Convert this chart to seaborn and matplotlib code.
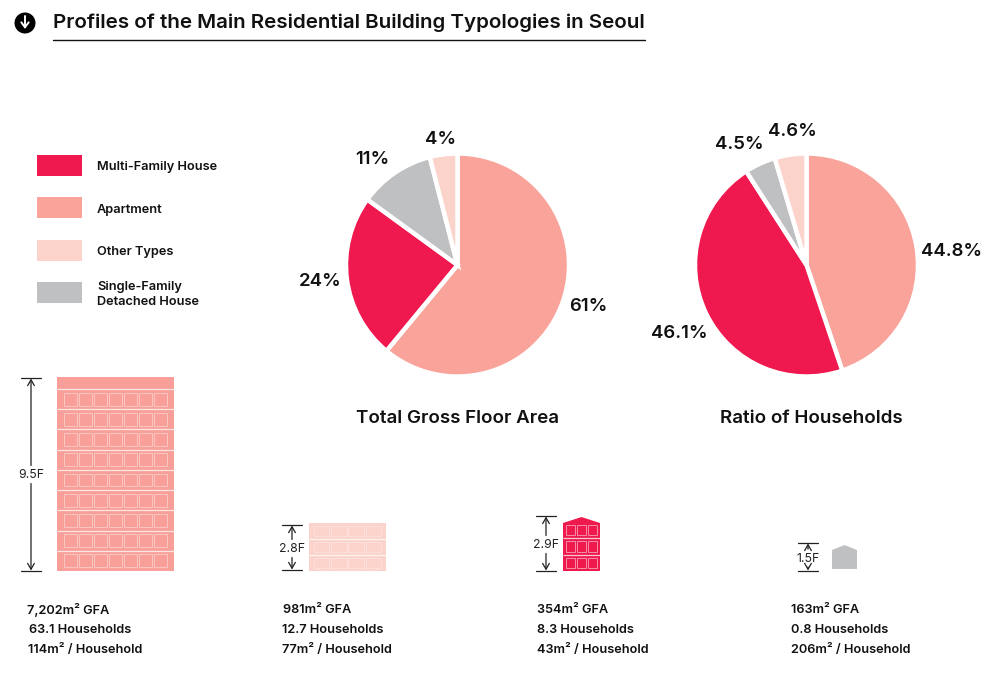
import matplotlib
matplotlib.use("Agg")
import matplotlib.pyplot as plt
from matplotlib.patches import Rectangle, Polygon, Circle
import seaborn as sns

sns.set_theme(style="white")
plt.rcParams["font.family"] = ["Inter", "DejaVu Sans"]

TITLE = "Profiles of the Main Residential Building Typologies in Seoul"
categories = ["Apartment", "Multi-Family House", "Single-Family Detached House", "Other Types"]
gfa_share = [61, 24, 11, 4]
gfa_labels = ["61%", "24%", "11%", "4%"]
household_share = [44.8, 46.1, 4.5, 4.6]
household_labels = ["44.8%", "46.1%", "4.5%", "4.6%"]
colors = sns.color_palette(["#F9A39A", "#F0194F", "#BFC0C2", "#FBD3CB"])
color_of = dict(zip(categories, colors))

legend_items = ["Multi-Family House", "Apartment", "Other Types", "Single-Family\nDetached House"]
legend_keys = ["Multi-Family House", "Apartment", "Other Types", "Single-Family Detached House"]

floors_labels = ["9.5F", "2.8F", "2.9F", "1.5F"]
gfa_text = ["7,202m² GFA", "981m² GFA", "354m² GFA", "163m² GFA"]
hh_text = ["63.1 Households", "12.7 Households", "8.3 Households", "0.8 Households"]
per_text = ["114m² / Household", "77m² / Household", "43m² / Household", "206m² / Household"]

W, H = 1000, 691
fig = plt.figure(figsize=(W / 100, H / 100), dpi=100, facecolor="white")
bg = fig.add_axes([0, 0, 1, 1])
bg.set_xlim(0, W)
bg.set_ylim(H, 0)
bg.axis("off")


def pie(cx, cy, r, values, labels, label_pos):
    ax = fig.add_axes([(cx - r) / W, 1 - (cy + r) / H, 2 * r / W, 2 * r / H])
    ax.pie(values, colors=colors, startangle=90, counterclock=False, radius=1,
           wedgeprops=dict(edgecolor="white", linewidth=3.2, clip_on=False))
    ax.set_xlim(-1, 1)
    ax.set_ylim(-1, 1)
    ax.set_aspect("equal")
    for lab, (x, y) in zip(labels, label_pos):
        bg.text(x, y, lab, ha="center", va="center", fontsize=13.4, fontweight="semibold", color="#111111")


pie(457.5, 265, 111.5, gfa_share, gfa_labels, [(588, 306), (320, 281.5), (372, 159.5), (441, 139.5)])
pie(806.5, 265, 111.5, household_share, household_labels, [(952, 251), (679, 333.5), (739.5, 144.5), (792, 131.5)])
bg.text(458, 418, "Total Gross Floor Area", ha="center", va="center", fontsize=13.5, fontweight="semibold", color="#111111")
bg.text(811.5, 418, "Ratio of Households", ha="center", va="center", fontsize=13.5, fontweight="semibold", color="#111111")

# header
bg.add_patch(Circle((25, 23), 10.5, fc="black", ec="none"))
bg.annotate("", xy=(25, 29), xytext=(25, 16),
            arrowprops=dict(arrowstyle="->,head_width=0.22,head_length=0.3", color="white", lw=1.4, shrinkA=0, shrinkB=0))
bg.text(53, 22.5, TITLE, ha="left", va="center", fontsize=14.8, fontweight="semibold", color="#111111")
bg.plot([53, 645], [40, 40], color="#111111", lw=1)

# legend
for key, lab, y in zip(legend_keys, legend_items, [165, 207.5, 250, 292.5]):
    bg.add_patch(Rectangle((37, y - 10.5), 44.5, 21, fc=color_of[key], ec="none"))
    bg.text(97, y + 2, lab, ha="left", va="center", fontsize=9.2, fontweight="semibold",
            color="#111111", linespacing=1.3)


def building(x0, x1, top, bottom, base_top, n_floors, n_win, fc, line="#FFFFFF",
             eaves=None, win_alpha=0.55, first_line=False):
    if eaves is not None:
        xm = (x0 + x1) / 2
        bg.add_patch(Polygon([(x0, bottom), (x0, eaves), (xm, top), (x1, eaves), (x1, bottom)], fc=fc, ec="none"))
    else:
        bg.add_patch(Rectangle((x0, top), x1 - x0, bottom - top, fc=fc, ec="none"))
    if n_floors == 0:
        return
    fh = (bottom - base_top) / n_floors
    width = x1 - x0
    pitch = width * 0.9 / n_win
    for i in range(n_floors):
        fy = base_top + i * fh
        if i > 0 or first_line:
            bg.plot([x0, x1], [fy, fy], color=line, lw=0.9, alpha=0.75, solid_capstyle="butt")
        for j in range(n_win):
            bg.add_patch(Rectangle((x0 + width * 0.05 + j * pitch + 0.7, fy + fh * 0.18), pitch - 1.4, fh * 0.64,
                                   fc="none", ec=line, lw=0.7, alpha=win_alpha))


building(57, 174, 377, 571, 389, 9, 7, "#F79F98", win_alpha=0.4, first_line=True)
building(309, 386, 523, 571, 523, 3, 4, "#FBD3CB", win_alpha=0.3)
building(563, 600, 517, 571, 522, 3, 3, "#EE1A4E", eaves=523, win_alpha=0.5)
building(832, 857, 545, 569, 551, 0, 0, "#BFC0C2", eaves=550)


def dim(x, top, bottom, label, half=10):
    c = "#222222"
    ymid = (top + bottom) / 2 + (0 if bottom - top > 100 else 1)
    bg.plot([x - half, x + half], [top, top], color=c, lw=0.9)
    bg.plot([x - half, x + half], [bottom, bottom], color=c, lw=0.9)
    gap = 9
    for end, start in ((top + 0.5, ymid - gap), (bottom - 0.5, ymid + gap)):
        bg.annotate("", xy=(x, end), xytext=(x, start),
                    arrowprops=dict(arrowstyle="->,head_width=0.2,head_length=0.35", color=c, lw=0.9, shrinkA=0, shrinkB=0))
    bg.text(x, ymid + 0.5, label, ha="center", va="center", fontsize=8.8, color="#222222")


dim(31, 378, 571, floors_labels[0])
dim(292, 525, 570, floors_labels[1])
dim(546, 516, 571, floors_labels[2])
dim(808, 543, 571, floors_labels[3])

# captions
for g, h, p, xg, xh, xp in zip(gfa_text, hh_text, per_text,
                               [27, 283, 537, 791], [29, 282, 537, 791], [28, 282, 537, 791]):
    for t, x, y in ((g, xg, 610), (h, xh, 630), (p, xp, 650)):
        bg.text(x, y, t, ha="left", va="center", fontsize=9.2, fontweight="semibold", color="#111111")

fig.savefig("out.png", dpi=100, facecolor="white")
